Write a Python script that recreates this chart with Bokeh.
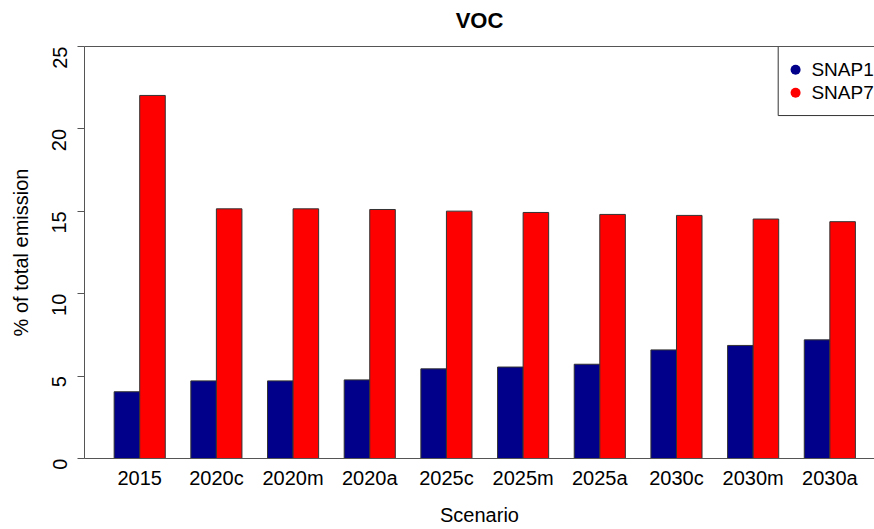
import math
from bokeh.plotting import figure
from bokeh.models import Range1d, FixedTicker, LinearAxis
from bokeh.core.properties import value
from bokeh.embed import file_html
from bokeh.resources import INLINE

# VOC share of total emission per scenario
scenarios = ["2015", "2020c", "2020m", "2020a", "2025c", "2025m", "2025a",
             "2030c", "2030m", "2030a"]
snap1 = [4.05, 4.71, 4.71, 4.77, 5.44, 5.55, 5.72, 6.59, 6.86, 7.20]
snap7 = [22.03, 15.15, 15.15, 15.11, 15.01, 14.93, 14.81, 14.75, 14.53, 14.37]
series_names = ["SNAP1", "SNAP7"]
series_colors = ["#00008B", "#FF0000"]
y_ticks = [0, 5, 10, 15, 20, 25]

FONT = "Liberation Sans"
AXIS_COLOR = "#555555"

# grouped bar layout: two unit-wide bars per group, one unit of space before each group
group_left = [1 + 3 * i for i in range(len(scenarios))]
x_left = -0.04 * (group_left[-1] + 2 - 1) + 1
x_right = group_left[-1] + 2 + 0.04 * (group_left[-1] + 2 - 1)

p = figure(width=874, height=529, output_backend="svg", toolbar_location=None,
           x_range=Range1d(x_left, x_left + 790 / 25.56), y_range=Range1d(0, 25),
           x_axis_type=None, y_axis_type=None,
           min_border_left=84, min_border_right=0, min_border_top=46,
           min_border_bottom=71)
p.grid.visible = False
p.outline_line_color = None
p.background_fill_color = "white"
p.border_fill_color = "white"

p.vbar(x=[g + 0.5 for g in group_left], top=snap1, width=1, bottom=0,
       fill_color=series_colors[0], line_color="#333333", line_width=1)
p.vbar(x=[g + 1.5 for g in group_left], top=snap7, width=1, bottom=0,
       fill_color=series_colors[1], line_color="#333333", line_width=1)

# y axis
yax = LinearAxis(ticker=FixedTicker(ticks=y_ticks))
yax.major_label_orientation = math.pi / 2
yax.major_label_text_font = FONT
yax.major_label_text_font_size = "20px"
yax.major_label_text_color = "black"
yax.major_label_standoff = 18
yax.major_tick_out = 7
yax.major_tick_in = 0
yax.minor_tick_out = 0
yax.minor_tick_in = 0
yax.axis_line_color = AXIS_COLOR
yax.major_tick_line_color = AXIS_COLOR
yax.axis_label = "% of total emission"
yax.axis_label_text_font = FONT
yax.axis_label_text_font_size = "20px"
yax.axis_label_text_font_style = "normal"
yax.axis_label_text_color = "black"
yax.axis_label_standoff = 11
p.add_layout(yax, "left")

# x axis with scenario names at group centres
xax = LinearAxis(ticker=FixedTicker(ticks=[g + 1 for g in group_left]))
xax.major_label_overrides = {g + 1: s for g, s in zip(group_left, scenarios)}
xax.major_label_text_font = FONT
xax.major_label_text_font_size = "20px"
xax.major_label_text_color = "black"
xax.major_label_standoff = 8
xax.major_tick_out = 0
xax.major_tick_in = 0
xax.minor_tick_out = 0
xax.minor_tick_in = 0
xax.axis_line_color = AXIS_COLOR
xax.axis_label = "Scenario"
xax.axis_label_text_font = FONT
xax.axis_label_text_font_size = "20px"
xax.axis_label_text_font_style = "normal"
xax.axis_label_text_color = "black"
xax.axis_label_standoff = 12
p.add_layout(xax, "below")

# top edge of the plot box, carrying the chart title
tax = LinearAxis(ticker=FixedTicker(ticks=[]))
tax.major_label_text_font_size = "0px"
tax.major_label_standoff = 0
tax.major_tick_out = 0
tax.minor_tick_out = 0
tax.axis_line_color = AXIS_COLOR
tax.axis_label = "VOC"
tax.axis_label_text_font = FONT
tax.axis_label_text_font_size = "22px"
tax.axis_label_text_font_style = "bold"
tax.axis_label_text_color = "black"
tax.axis_label_standoff = 14
p.add_layout(tax, "above")

# legend in the top-right corner of the plot region
p.quad(left=[x_right - 4.18], right=[x_right], bottom=[20.81], top=[25],
       fill_color="white", line_color="#333333", line_width=1)
p.scatter(x=[x_right - 3.5, x_right - 3.5], y=[23.59, 22.19], size=10,
          fill_color=series_colors, line_color=None)
p.text(x=[x_right - 2.88, x_right - 2.88], y=[23.59, 22.19], text=series_names,
       text_font=value(FONT), text_font_size="19px", text_baseline="middle",
       text_align="left", text_color="black")

open("out.html", "w").write(file_html(p, INLINE))
